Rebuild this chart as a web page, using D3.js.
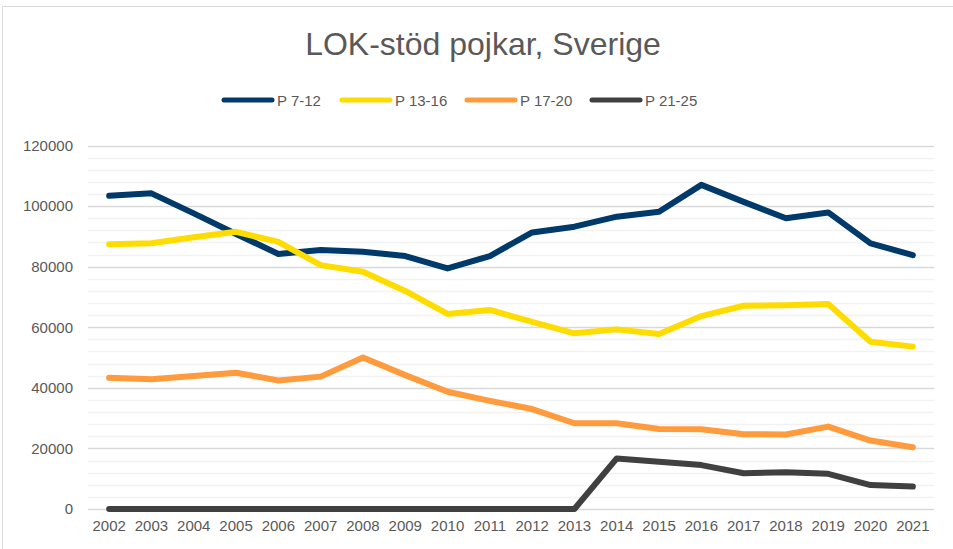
<!DOCTYPE html>
<html>
<head>
<meta charset="utf-8">
<script src="https://cdn.jsdelivr.net/npm/d3@7"></script>
<style>
  body { margin: 0; background: #fff; }
  svg { display: block; font-family: "Liberation Sans", Arial, sans-serif; }
</style>
</head>
<body>
<script>
var years = ['2002','2003','2004','2005','2006','2007','2008','2009','2010','2011',
             '2012','2013','2014','2015','2016','2017','2018','2019','2020','2021'];

var p7_12  = [103400,104200,97600,90800,84200,85500,84900,83500,79400,83500,
              91300,93200,96500,98100,107000,101400,96000,97900,87700,83800];
var p13_16 = [87400,87700,89700,91500,88200,80500,78300,72000,64400,65700,
              61800,58000,59300,57800,63700,67100,67300,67700,55200,53600];
var p17_20 = [43300,42800,43900,45000,42400,43700,50000,44200,38700,35700,
              33000,28300,28300,26400,26300,24700,24600,27200,22600,20400];
var p21_25 = [0,0,0,0,0,0,0,0,0,0,
              0,0,16700,15600,14500,11800,12100,11600,7900,7400];

var seriesNames = ['P 7-12','P 13-16','P 17-20','P 21-25'];
var seriesColors = ['#003a6b','#ffdc00','#ff9a3d','#404040'];
var seriesData = [p7_12, p13_16, p17_20, p21_25];

var yTicks = [0,20000,40000,60000,80000,100000,120000];

var W = 953, H = 549;
var plot = {left: 88, right: 934, top: 145.5, bottom: 509};

var svg = d3.select('body').append('svg')
            .attr('width', W)
            .attr('height', H);

// chart border
svg.append('rect')
   .attr('x', 2.5).attr('y', 6.5)
   .attr('width', W + 10).attr('height', H + 10)
   .attr('fill', 'none')
   .attr('stroke', '#d9d9d9');

var x = d3.scaleBand().domain(years).range([plot.left, plot.right]);
var y = d3.scaleLinear().domain([0, 120000]).range([plot.bottom, plot.top]);

// minor gridlines
svg.append('g').selectAll('line')
   .data(d3.range(0, 120001, 4000).filter(function(d){ return d % 20000 !== 0; }))
   .enter().append('line')
   .attr('x1', plot.left).attr('x2', plot.right)
   .attr('y1', function(d){ return Math.round(y(d)) + 0.5; })
   .attr('y2', function(d){ return Math.round(y(d)) + 0.5; })
   .attr('stroke', '#f2f2f2')
   .attr('stroke-width', 1.5);

// major gridlines
svg.append('g').selectAll('line')
   .data(yTicks)
   .enter().append('line')
   .attr('x1', plot.left).attr('x2', plot.right)
   .attr('y1', function(d){ return Math.round(y(d)) + 0.5; })
   .attr('y2', function(d){ return Math.round(y(d)) + 0.5; })
   .attr('stroke', '#d9d9d9')
   .attr('stroke-width', 1.5);

// y axis labels
var yAxis = svg.append('g')
   .attr('transform', 'translate(' + (plot.left - 15) + ',0)')
   .call(d3.axisLeft(y).tickValues(yTicks).tickSize(0).tickPadding(0).tickFormat(d3.format('d')));
yAxis.select('.domain').remove();
yAxis.selectAll('text')
   .attr('fill', '#595959')
   .style('font-size', '15px')
   .style('font-family', '"Liberation Sans", Arial, sans-serif');

// x axis labels
var xAxis = svg.append('g')
   .attr('transform', 'translate(0,' + plot.bottom + ')')
   .call(d3.axisBottom(x).tickSize(0).tickPadding(11));
xAxis.select('.domain').remove();
xAxis.selectAll('text')
   .attr('fill', '#595959')
   .style('font-size', '15px')
   .style('font-family', '"Liberation Sans", Arial, sans-serif');

// lines
var line = d3.line()
   .x(function(d, i){ return x(years[i]) + x.bandwidth() / 2; })
   .y(function(d){ return y(d); });

svg.append('g').selectAll('path')
   .data(seriesData)
   .enter().append('path')
   .attr('d', line)
   .attr('fill', 'none')
   .attr('stroke', function(d, i){ return seriesColors[i]; })
   .attr('stroke-width', 6)
   .attr('stroke-linejoin', 'round')
   .attr('stroke-linecap', 'round');

// title
svg.append('text')
   .attr('x', 483).attr('y', 55)
   .attr('text-anchor', 'middle')
   .attr('fill', '#595959')
   .style('font-size', '32px')
   .text('LOK-stöd pojkar, Sverige');

// legend
var legendX = [224, 342, 467, 592];
var lg = svg.append('g').selectAll('g')
   .data(seriesNames)
   .enter().append('g')
   .attr('transform', function(d, i){ return 'translate(' + legendX[i] + ',100)'; });
lg.append('line')
   .attr('x1', 0).attr('x2', 48)
   .attr('stroke', function(d, i){ return seriesColors[i]; })
   .attr('stroke-width', 5)
   .attr('stroke-linecap', 'round');
lg.append('text')
   .attr('x', 53).attr('y', 5.5)
   .attr('fill', '#595959')
   .style('font-size', '15px')
   .text(function(d){ return d; });
</script>
</body>
</html>
